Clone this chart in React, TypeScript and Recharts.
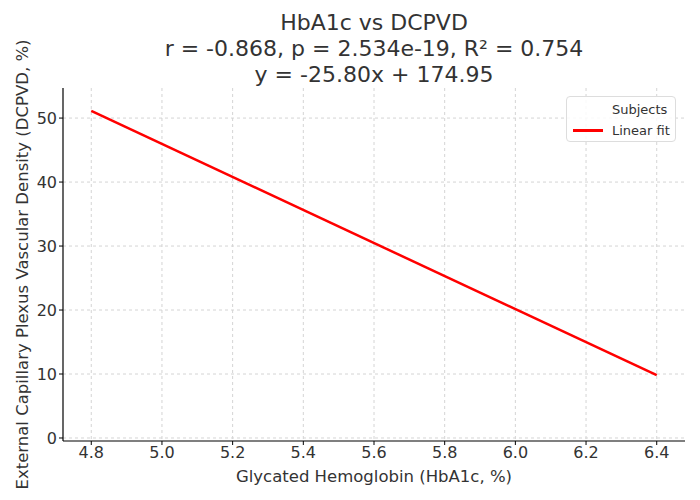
import React from "react";
import {
  ComposedChart,
  Line,
  Scatter,
  XAxis,
  YAxis,
  CartesianGrid,
  Label,
} from "recharts";

const titleLines = [
  "HbA1c vs DCPVD",
  "r = -0.868, p = 2.534e-19, R² = 0.754",
  "y = -25.80x + 174.95",
];

const xTicks = [4.8, 5.0, 5.2, 5.4, 5.6, 5.8, 6.0, 6.2, 6.4];
const yTicks = [0, 10, 20, 30, 40, 50];

// fitted line end points (HbA1c, DCPVD)
const fitX = [4.8, 6.4];
const fitY = [51.11, 9.83];

const subjects: { x: number; y: number }[] = [];

const fitData = fitX.map((x, i) => ({ x, fit: fitY[i] }));

const FONT = "DejaVu Sans, sans-serif";
const TEXT = "#333333";

const LegendBox = () => (
  <div
    style={{
      position: "absolute",
      left: 566,
      top: 96,
      width: 110,
      height: 46,
      boxSizing: "border-box",
      border: "1px solid #dddddd",
      borderRadius: 4,
      background: "rgba(255,255,255,0.85)",
      padding: "2px 0 0 6px",
      fontFamily: FONT,
      fontSize: 13,
      color: TEXT,
      lineHeight: "21px",
      whiteSpace: "nowrap",
      zIndex: 2,
    }}
  >
    <div style={{ display: "flex", alignItems: "center" }}>
      <span style={{ width: 30, marginRight: 9 }} />
      <span>Subjects</span>
    </div>
    <div style={{ display: "flex", alignItems: "center" }}>
      <span
        style={{
          width: 30,
          height: 3,
          background: "#ff0000",
          marginRight: 9,
          display: "inline-block",
        }}
      />
      <span>Linear fit</span>
    </div>
  </div>
);

const App: React.FC = () => {
  return (
    <div
      style={{
        position: "absolute",
        left: 0,
        top: 0,
        width: 700,
        height: 500,
        background: "#fff",
        fontFamily: FONT,
      }}
    >
      <svg
        width={700}
        height={90}
        style={{ position: "absolute", left: 0, top: 0, zIndex: 1 }}
      >
        {titleLines.map((t, i) => (
          <text
            key={i}
            x={374}
            y={30 + i * 26}
            textAnchor="middle"
            fontSize={22}
            fill={TEXT}
            fontFamily={FONT}
          >
            {t}
          </text>
        ))}
      </svg>
      <ComposedChart
        width={700}
        height={500}
        data={fitData}
        margin={{ top: 88, right: 15, bottom: 19, left: 13 }}
      >
        <CartesianGrid
          stroke="#d4d4d4"
          strokeDasharray="3 3"
          verticalValues={xTicks}
          horizontalValues={yTicks}
        />
        <XAxis
          dataKey="x"
          type="number"
          domain={[4.72, 6.48]}
          ticks={xTicks}
          tickFormatter={(v: number) => v.toFixed(1)}
          height={40}
          tickSize={4}
          tick={{ fill: TEXT, fontSize: 16, fontFamily: FONT }}
          axisLine={{ stroke: "#000", strokeWidth: 1.2 }}
          tickLine={{ stroke: "#000" }}
          allowDataOverflow
        >
          <Label
            value="Glycated Hemoglobin (HbA1c, %)"
            position="insideBottom"
            offset={-1}
            style={{ fill: TEXT, fontSize: 16.5, fontFamily: FONT }}
          />
        </XAxis>
        <YAxis
          type="number"
          domain={[-0.47, 54.7]}
          ticks={yTicks}
          width={50}
          tickSize={4}
          tick={{ fill: TEXT, fontSize: 16, fontFamily: FONT }}
          axisLine={{ stroke: "#000", strokeWidth: 1.2 }}
          tickLine={{ stroke: "#000" }}
          allowDataOverflow
        >
          <Label
            value="External Capillary Plexus Vascular Density (DCPVD, %)"
            angle={-90}
            position="insideLeft"
            offset={9}
            style={{
              fill: TEXT,
              fontSize: 16.5,
              fontFamily: FONT,
              textAnchor: "middle",
            }}
          />
        </YAxis>
        <Scatter
          name="Subjects"
          data={subjects}
          dataKey="y"
          fill="#1f77b4"
          isAnimationActive={false}
        />
        <Line
          name="Linear fit"
          dataKey="fit"
          stroke="#ff0000"
          strokeWidth={2.5}
          dot={false}
          activeDot={false}
          isAnimationActive={false}
        />
      </ComposedChart>
      <LegendBox />
    </div>
  );
};

export default App;
